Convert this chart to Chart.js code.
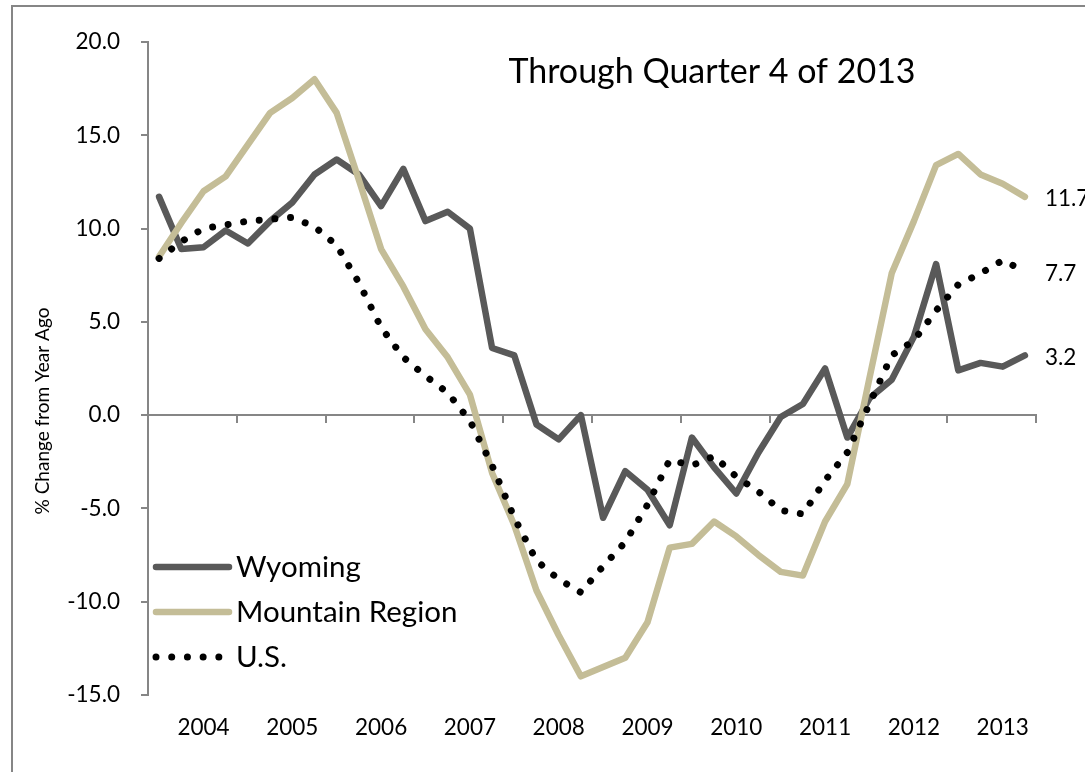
<!DOCTYPE html>
<html>
<head>
<meta charset="utf-8">
<script src="https://cdn.jsdelivr.net/npm/chart.js@4.4.1/dist/chart.umd.min.js"></script>
<style>
  html, body { margin: 0; padding: 0; background: #fff; overflow: hidden; }
  #wrap { position: relative; width: 1085px; height: 772px; overflow: hidden; }
  #frame { position: absolute; left: 11px; top: 5px; width: 1200px; height: 900px;
           border-left: 2px solid #868686; border-top: 2px solid #868686; }
  canvas { position: absolute; left: 0; top: 0; }
</style>
</head>
<body>
<div id="wrap">
  <div id="frame"></div>
  <canvas id="chart" width="1085" height="772"></canvas>
</div>
<script>
// quarterly data, 2004 Q1 .. 2013 Q4
const years = ['2004', '2005', '2006', '2007', '2008', '2009', '2010', '2011', '2012', '2013'];
const quarters = ['Q1', 'Q2', 'Q3', 'Q4'];

const wyoming = [11.7, 8.9, 9.0, 9.9, 9.2, 10.4, 11.4, 12.9, 13.7, 12.9,
                 11.2, 13.2, 10.4, 10.9, 10.0, 3.6, 3.2, -0.5, -1.3, 0.0,
                 -5.5, -3.0, -4.0, -5.9, -1.2, -2.8, -4.2, -2.0, -0.1, 0.6,
                 2.5, -1.2, 0.9, 1.9, 4.2, 8.1, 2.4, 2.8, 2.6, 3.2];
const mountain = [8.5, 10.3, 12.0, 12.8, 14.5, 16.2, 17.0, 18.0, 16.2, 12.6,
                  8.9, 6.9, 4.6, 3.1, 1.1, -3.1, -5.9, -9.4, -11.8, -14.0,
                  -13.5, -13.0, -11.1, -7.1, -6.9, -5.7, -6.5, -7.5, -8.4, -8.6,
                  -5.7, -3.7, 2.0, 7.6, 10.4, 13.4, 14.0, 12.9, 12.4, 11.7];
const us = [8.4, 9.3, 10.0, 10.2, 10.4, 10.5, 10.6, 10.1, 9.1, 7.1,
            4.7, 3.1, 2.1, 1.2, -0.3, -2.7, -5.5, -7.8, -8.8, -9.5,
            -8.1, -6.8, -4.8, -2.4, -2.7, -2.2, -3.3, -4.1, -5.1, -5.3,
            -3.5, -2.0, 0.6, 3.2, 4.0, 5.6, 7.0, 7.6, 8.3, 7.7];

const yMin = -15, yMax = 20, yStep = 5;

const FONT = 'Lato, "Open Sans", sans-serif';
const AXIS = '#868686';

const labels = years.flatMap(y => quarters.map(q => y + ' ' + q));

// title, axis title, legend and end-of-line values
const overlay = {
  id: 'overlay',
  afterDraw(chart) {
    const ctx = chart.ctx;
    ctx.save();
    ctx.fillStyle = '#000';

    ctx.font = '34px ' + FONT;
    ctx.textAlign = 'center';
    ctx.textBaseline = 'alphabetic';
    ctx.fillText('Through Quarter 4 of 2013', 712, 83);

    ctx.save();
    ctx.translate(43, 411);
    ctx.rotate(-Math.PI / 2);
    ctx.font = '19px ' + FONT;
    ctx.textBaseline = 'middle';
    ctx.fillText('% Change from Year Ago', 0, 0);
    ctx.restore();

    // value labels at the end of each line
    ctx.font = '22.5px ' + FONT;
    ctx.textAlign = 'left';
    ctx.textBaseline = 'middle';
    chart.data.datasets.forEach((ds, k) => {
      const pts = chart.getDatasetMeta(k).data;
      const p = pts[pts.length - 1];
      ctx.fillText(ds.data[ds.data.length - 1].toFixed(1), p.x + 20, p.y + 2);
    });

    // legend
    const rows = [567, 612, 657];
    chart.data.datasets.forEach((ds, k) => {
      const y = rows[k];
      ctx.beginPath();
      ctx.strokeStyle = ds.borderColor;
      ctx.lineWidth = ds.borderWidth;
      ctx.lineCap = 'round';
      ctx.setLineDash(ds.borderDash || []);
      ctx.moveTo(156, y);
      ctx.lineTo(229, y);
      ctx.stroke();
      ctx.setLineDash([]);
      ctx.font = '29.5px ' + FONT;
      ctx.fillStyle = '#000';
      ctx.fillText(ds.label, 236, y);
    });
    ctx.restore();
  }
};

new Chart(document.getElementById('chart'), {
  type: 'line',
  data: {
    labels: labels,
    datasets: [
      { label: 'Wyoming', data: wyoming, borderColor: '#595959', borderWidth: 6.5,
        borderCapStyle: 'round', borderJoinStyle: 'round', order: 3 },
      { label: 'Mountain Region', data: mountain, borderColor: '#c4bd97', borderWidth: 6.5,
        borderCapStyle: 'round', borderJoinStyle: 'round', order: 2 },
      { label: 'U.S.', data: us, borderColor: '#000000', borderWidth: 7,
        borderCapStyle: 'round', borderDash: [0.01, 15.7], order: 1 }
    ].map(d => Object.assign(d, { xAxisID: 'x', yAxisID: 'y', pointRadius: 0, tension: 0, fill: false }))
  },
  options: {
    responsive: false,
    animation: false,
    devicePixelRatio: 1,
    layout: { padding: { left: 0, top: 42, right: 49, bottom: 0 } },
    plugins: { legend: { display: false }, tooltip: { enabled: false } },
    scales: {
      x: {
        type: 'category',
        position: { y: 0 },
        offset: true,
        grid: {
          drawOnChartArea: false, offset: true, tickLength: 7, lineWidth: 2,
          color: c => (c.index === undefined || c.index % 4 === 0) ? AXIS : 'rgba(0,0,0,0)'
        },
        border: { color: AXIS, width: 2 },
        ticks: { display: false }
      },
      x2: {
        type: 'category',
        position: 'bottom',
        offset: true,
        grid: { display: false, drawTicks: false },
        border: { display: false },
        ticks: {
          autoSkip: false, maxRotation: 0, minRotation: 0, padding: 19,
          color: '#000', font: { family: FONT, size: 22.5 },
          callback: (v, i) => i % 4 === 2 ? years[Math.floor(i / 4)] : ''
        },
        afterFit: s => { s.height = 77; }
      },
      y: {
        min: yMin, max: yMax,
        ticks: {
          stepSize: yStep, padding: 21, color: '#000',
          font: { family: FONT, size: 22.5 },
          callback: v => v.toFixed(1)
        },
        grid: { drawOnChartArea: false, tickLength: 7, lineWidth: 2, color: AXIS },
        border: { color: AXIS, width: 2 },
        afterFit: s => { s.width = 148; }
      }
    }
  },
  plugins: [overlay]
});
</script>
</body>
</html>
